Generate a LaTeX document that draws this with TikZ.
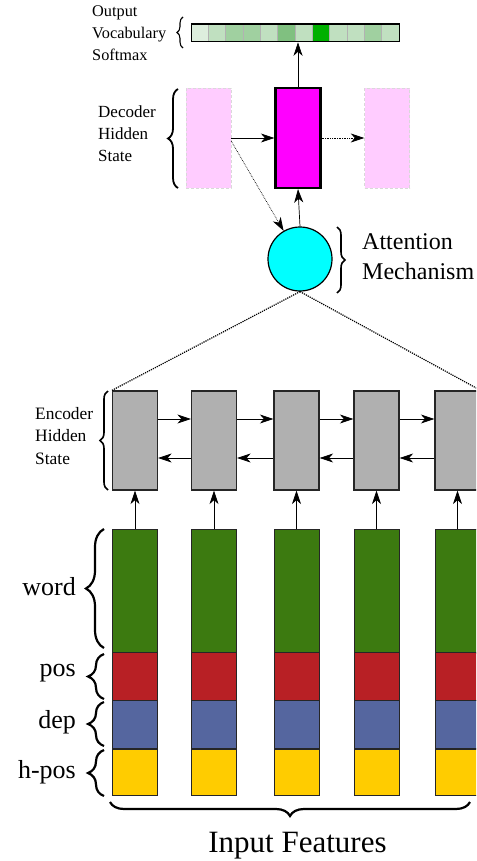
\documentclass[tikz,border=0pt]{standalone}
\usepackage{fontspec}
\setmainfont{Liberation Serif}
\usetikzlibrary{arrows.meta,decorations.pathreplacing,calc}
\definecolor{smA}{HTML}{DDEEDD}
\definecolor{smB}{HTML}{C0E0C0}
\definecolor{smC}{HTML}{A0D0A0}
\definecolor{smD}{HTML}{80C080}
\definecolor{smE}{HTML}{00B000}
\definecolor{pinkish}{HTML}{FFCCFF}
\definecolor{magbox}{HTML}{FF00FF}
\definecolor{cyanball}{HTML}{00FFFF}
\definecolor{encgray}{HTML}{B0B0B0}
\definecolor{wordgreen}{HTML}{3C7A10}
\definecolor{posred}{HTML}{B82025}
\definecolor{depblue}{HTML}{55669F}
\definecolor{hposyellow}{HTML}{FFCC00}
\begin{document}
\begin{tikzpicture}[x=1pt,y=-1pt,
  arr/.style={-{Stealth[length=13.5pt,width=9pt,inset=4pt]}, line width=0.7pt},
  dotarr/.style={arr, densely dotted, line width=0.9pt},
  brc/.style={decorate, decoration={brace, amplitude=#1}, line width=1.6pt},
  smalltxt/.style={align=left, inner sep=0pt, font=\fontsize{17}{22}\selectfont},
  bigtxt/.style={inner sep=0pt, font=\fontsize{26}{30}\selectfont},
  encbox/.style={draw=black!85, fill=encgray, line width=1.2pt, minimum width=45pt, minimum height=99pt, inner sep=0pt},
  featbox/.style={draw=black!85, fill=#1, line width=1pt, minimum width=45pt, inner sep=0pt},
]
\clip (0,0) rectangle (476,861);
\fill[white] (0,0) rectangle (476,861);

% softmax bar
\foreach \c [count=\i from 0] in {smA,smB,smC,smC,smB,smD,smB,smE,smB,smB,smC,smB}
  \fill[\c, draw=black!30, line width=0.5pt] (191+\i*17.333,23.3) rectangle ++(17.333,17.7);
\node[draw, line width=1.3pt, minimum width=208pt, minimum height=17.7pt, inner sep=0pt, anchor=north west] (bar) at (191,23.3) {};
\node[smalltxt, anchor=west, font=\fontsize{16.3}{22}\selectfont] (outlbl) at (92,33) {Output\\Vocabulary\\Softmax};
\draw[brc=6pt, line width=1.1pt] (183,48) -- (183,17);

% decoder
\node[draw=black!15, densely dashed, fill=pinkish, minimum width=45pt, minimum height=100pt, inner sep=0pt] (pk1) at (208.5,138) {};
\node[draw=black, fill=magbox, line width=2.2pt, minimum width=45pt, minimum height=100pt, inner sep=0pt] (mag) at (298,138) {};
\node[draw=black!15, densely dashed, fill=pinkish, minimum width=45pt, minimum height=100pt, inner sep=0pt] (pk2) at (387,138) {};
\node[smalltxt, anchor=west] (declbl) at (98,134) {Decoder\\Hidden\\State};
\draw[brc=10pt, line width=1.8pt] (178,188) -- (178,89);
\draw[arr] (pk1.east) -- (mag.west);
\draw[dotarr] (mag.east) -- (pk2.west);
\draw[arr] (mag.north) -- (mag.north |- bar.south);

% attention
\node[circle, draw=black, fill=cyanball, line width=1.2pt, minimum size=64pt, inner sep=0pt] (att) at (300,259) {};
\draw[arr] (att.north) -- (mag.south);
\draw[dotarr, line width=0.7pt] ([yshift=-3pt]pk1.east) -- (att);
\draw[brc=8pt, line width=1.6pt] (337,227) -- (337,293);
\node[anchor=west, align=left, inner sep=0pt, font=\fontsize{24}{30}\selectfont] (attlbl) at (362,257) {Attention\\Mechanism};

% encoder and features
\foreach \x [count=\i] in {135,214,296.5,376.5,457.5} {
  \node[encbox] (enc\i) at (\x,440.5) {};
  \node[featbox=wordgreen, minimum height=124pt] (wd\i) at (\x,591) {};
  \node[featbox=posred, minimum height=47.5pt] (ps\i) at (\x,676.5) {};
  \node[featbox=depblue, minimum height=48.7pt] (dp\i) at (\x,724.6) {};
  \node[featbox=hposyellow, minimum height=46.7pt] (hp\i) at (\x,772.4) {};
  \draw[arr] (wd\i.north) -- (enc\i.south);
}
\foreach \i/\j in {1/2,2/3,3/4,4/5} {
  \draw[arr] ([yshift=21.5pt]enc\i.east) -- ([yshift=21.5pt]enc\j.west);
  \draw[arr] ([yshift=-17.5pt]enc\j.west) -- ([yshift=-17.5pt]enc\i.east);
}
\draw[densely dotted, line width=1.2pt] (att.south) -- (enc1.north west);
\draw[densely dotted, line width=1.2pt] (att.south) -- (enc5.north east);
\node[smalltxt, anchor=west, font=\fontsize{17.4}{22.5}\selectfont] (enclbl) at (35,436) {Encoder\\Hidden\\State};
\draw[brc=8pt, line width=1.6pt] (108,490) -- (108,391);

% feature braces and labels
\draw[brc=18pt, line width=2.2pt] (104,648) -- (104,529);
\draw[brc=16pt, line width=2.2pt] (104,699) -- (104,654);
\draw[brc=16pt, line width=2.2pt] (104,746) -- (104,702);
\draw[brc=16pt, line width=2.2pt] (104,796) -- (104,750);
\node[bigtxt, anchor=east] (wordlbl) at (76,587) {word};
\node[bigtxt, anchor=east] (poslbl) at (76,673) {pos};
\node[bigtxt, anchor=east] (deplbl) at (76,722) {dep};
\node[bigtxt, anchor=east] (hposlbl) at (76,772) {h-pos};
\draw[brc=14pt, line width=2.2pt] (470,802) -- (110,802);
\node[inner sep=0pt, anchor=base, font=\fontsize{31}{36}\selectfont] (inlbl) at (297.5,852.7) {Input Features};
\end{tikzpicture}
\end{document}
